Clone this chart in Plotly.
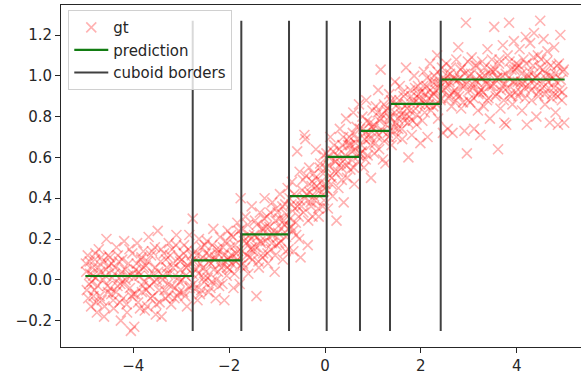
import plotly.graph_objects as go

# Noisy ground-truth samples, grouped in slices of x (first pass)
gt_x = [
    -4.99, -4.97, -4.95, -4.92, -4.90, -4.88, -4.85, -4.83, -4.80, -4.78, -4.76,
    -4.74, -4.72, -4.69, -4.66, -4.64, -4.61, -4.58, -4.56, -4.53, -4.51,
    -4.49, -4.46, -4.44, -4.41, -4.38, -4.35, -4.33, -4.30, -4.28, -4.26,
    -4.24, -4.21, -4.19, -4.16, -4.13, -4.10, -4.07, -4.05, -4.02, -4.00,
    -3.98, -3.95, -3.92, -3.90, -3.87, -3.84, -3.82, -3.79, -3.77, -3.76,
    -3.74, -3.71, -3.68, -3.66, -3.63, -3.60, -3.58, -3.55, -3.53, -3.51,
    -3.49, -3.46, -3.43, -3.41, -3.38, -3.36, -3.33, -3.30, -3.28, -3.26,
    -3.24, -3.21, -3.19, -3.16, -3.13, -3.10, -3.08, -3.05, -3.03, -3.01,
    -2.99, -2.96, -2.94, -2.91, -2.88, -2.86, -2.83, -2.81, -2.78, -2.76,
    -2.74, -2.71, -2.69, -2.66, -2.63, -2.60, -2.58, -2.55, -2.53, -2.51,
    -2.49, -2.46, -2.43, -2.41, -2.38, -2.36, -2.33, -2.30, -2.28, -2.26,
    -2.24, -2.21, -2.19, -2.16, -2.13, -2.10, -2.08, -2.05, -2.03, -2.01,
    -1.99, -1.96, -1.94, -1.91, -1.88, -1.86, -1.83, -1.81, -1.78, -1.76,
    -1.74, -1.71, -1.69, -1.66, -1.63, -1.60, -1.58, -1.55, -1.53, -1.51,
    -1.49, -1.46, -1.43, -1.41, -1.38, -1.36, -1.33, -1.30, -1.28, -1.26,
    -1.24, -1.21, -1.19, -1.16, -1.13, -1.10, -1.08, -1.05, -1.03, -1.01,
    -0.99, -0.96, -0.94, -0.91, -0.88, -0.86, -0.83, -0.81, -0.78, -0.76,
    -0.74, -0.71, -0.69, -0.66, -0.63, -0.60, -0.58, -0.55, -0.53, -0.51,
    -0.49, -0.46, -0.43, -0.41, -0.38, -0.36, -0.33, -0.30, -0.28, -0.26,
    -0.24, -0.21, -0.19, -0.16, -0.13, -0.10, -0.08, -0.05, -0.03, -0.01,
    0.01, 0.03, 0.06, 0.09, 0.11, 0.14, 0.16, 0.19, 0.21, 0.24,
    0.26, 0.28, 0.31, 0.34, 0.36, 0.39, 0.41, 0.44, 0.46, 0.49,
    0.51, 0.53, 0.56, 0.59, 0.61, 0.64, 0.66, 0.69, 0.71, 0.74,
    0.76, 0.78, 0.81, 0.84, 0.86, 0.89, 0.91, 0.94, 0.96, 0.99,
    1.01, 1.03, 1.06, 1.09, 1.11, 1.14, 1.16, 1.19, 1.21, 1.24,
    1.26, 1.28, 1.31, 1.34, 1.36, 1.39, 1.41, 1.44, 1.46, 1.49,
    1.51, 1.53, 1.56, 1.59, 1.61, 1.64, 1.66, 1.69, 1.71, 1.74,
    1.76, 1.78, 1.81, 1.84, 1.86, 1.89, 1.91, 1.94, 1.96, 1.99,
    2.01, 2.03, 2.06, 2.09, 2.11, 2.14, 2.16, 2.19, 2.21, 2.24,
    2.26, 2.28, 2.31, 2.34, 2.36, 2.39, 2.41, 2.44, 2.46, 2.49,
    2.51, 2.53, 2.56, 2.59, 2.61, 2.64, 2.66, 2.69, 2.71, 2.74,
    2.76, 2.78, 2.81, 2.84, 2.86, 2.89, 2.91, 2.94, 2.96, 2.99,
    3.01, 3.03, 3.06, 3.09, 3.11, 3.14, 3.16, 3.19, 3.21, 3.24,
    3.26, 3.28, 3.31, 3.34, 3.36, 3.39, 3.41, 3.44, 3.46, 3.49,
    3.51, 3.53, 3.56, 3.59, 3.61, 3.64, 3.66, 3.69, 3.71, 3.74,
    3.76, 3.78, 3.81, 3.84, 3.86, 3.89, 3.91, 3.94, 3.96, 3.99,
    4.01, 4.03, 4.06, 4.09, 4.11, 4.14, 4.16, 4.19, 4.21, 4.24,
    4.26, 4.28, 4.31, 4.34, 4.36, 4.39, 4.41, 4.44, 4.46, 4.49,
    4.51, 4.53, 4.56, 4.59, 4.61, 4.64, 4.66, 4.69, 4.71, 4.74,
    4.76, 4.78, 4.81, 4.84, 4.86, 4.89, 4.91, 4.94, 4.96, 4.99,
]
gt_y = [
    0.08, -0.05, 0.12, -0.02, 0.03, -0.13, 0.06, -0.08, 0.10, 0.01, -0.16,
    -0.03, 0.15, 0.04, -0.10, 0.09, -0.18, 0.02, 0.20, -0.06, 0.07,
    0.11, -0.07, 0.01, -0.14, 0.06, 0.16, -0.03, 0.09, -0.11, -0.20,
    0.04, -0.09, 0.19, 0.00, -0.16, 0.08, -0.04, -0.25, 0.13, -0.07,
    -0.23, 0.05, 0.18, -0.11, 0.02, 0.10, -0.06, 0.14, -0.01, -0.15,
    0.07, -0.13, 0.21, -0.03, 0.12, -0.08, 0.03, 0.16, -0.17, 0.00,
    0.24, -0.05, 0.09, -0.18, 0.02, 0.13, -0.09, 0.06, -0.02, 0.18,
    0.03, -0.12, 0.15, 0.08, -0.04, 0.22, -0.08, 0.11, -0.01, 0.05,
    0.10, -0.06, 0.17, 0.02, -0.13, 0.07, 0.22, -0.03, 0.12, 0.30,
    -0.02, 0.14, 0.05, -0.10, 0.20, 0.08, -0.05, 0.11, 0.01, 0.17,
    0.04, 0.19, -0.06, 0.12, 0.08, -0.01, 0.25, 0.10, -0.09, 0.15,
    0.13, -0.03, 0.21, 0.06, 0.16, -0.10, 0.09, 0.02, 0.24, 0.11,
    0.05, 0.22, 0.12, -0.04, 0.17, 0.09, 0.28, 0.14, -0.02, 0.40,
    0.25, 0.08, 0.19, 0.31, 0.12, 0.03, 0.22, 0.15, 0.36, 0.10,
    0.14, 0.29, -0.08, 0.21, 0.06, 0.33, 0.18, 0.11, 0.25, 0.40,
    0.19, 0.31, 0.08, 0.26, 0.15, 0.38, 0.22, 0.04, 0.29, 0.17,
    0.33, 0.18, 0.42, 0.25, 0.10, 0.29, 0.37, 0.21, 0.45, 0.15,
    0.40, 0.26, 0.48, 0.14, 0.35, 0.22, 0.63, 0.31, 0.53, 0.11,
    0.36, 0.49, 0.71, 0.69, 0.42, 0.17, 0.55, 0.38, 0.46, 0.31,
    0.52, 0.39, 0.64, 0.44, 0.31, 0.57, 0.48, 0.36, 0.61, 0.45,
    0.47, 0.62, 0.35, 0.56, 0.70, 0.50, 0.41, 0.66, 0.58, 0.29,
    0.61, 0.45, 0.74, 0.55, 0.66, 0.38, 0.59, 0.79, 0.50, 0.68,
    0.70, 0.54, 0.63, 0.82, 0.47, 0.67, 0.75, 0.58, 0.86, 0.62,
    0.66, 0.80, 0.55, 0.72, 0.88, 0.61, 0.69, 0.77, 0.50, 0.83,
    0.74, 0.62, 0.85, 0.70, 0.93, 0.78, 1.03, 0.81, 0.59, 0.68,
    0.57, 0.83, 0.72, 0.91, 0.79, 0.66, 0.87, 0.75, 0.97, 0.70,
    0.86, 0.74, 0.95, 0.81, 0.69, 0.90, 0.78, 1.04, 0.84, 0.60,
    0.80, 0.93, 0.71, 0.88, 1.00, 0.84, 0.76, 0.95, 0.89, 0.67,
    0.92, 0.78, 1.02, 0.86, 0.95, 0.70, 0.89, 1.06, 0.83, 0.97,
    0.85, 1.00, 0.93, 1.10, 0.79, 0.96, 0.88, 1.04, 0.72, 0.98,
    0.97, 1.06, 0.74, 0.90, 1.01, 0.85, 0.72, 0.99, 0.93, 1.08,
    0.91, 1.14, 0.99, 0.84, 1.04, 0.95, 0.73, 1.26, 0.62, 0.88,
    1.00, 0.87, 1.09, 0.94, 0.74, 0.98, 1.05, 0.83, 0.92, 0.71,
    0.93, 1.07, 0.85, 1.00, 0.96, 1.13, 0.89, 0.79, 1.03, 0.95,
    1.02, 1.24, 0.90, 0.99, 0.64, 1.08, 0.84, 0.95, 1.15, 0.77,
    0.96, 0.76, 1.10, 1.26, 0.91, 1.03, 0.86, 1.17, 0.97, 1.06,
    1.04, 0.90, 1.13, 0.97, 0.83, 1.08, 0.94, 1.19, 0.76, 1.00,
    0.95, 1.16, 0.88, 1.05, 1.21, 0.99, 0.80, 1.10, 0.92, 1.27,
    1.08, 0.94, 1.18, 0.86, 1.01, 1.12, 0.97, 0.77, 1.05, 0.91,
    0.99, 1.14, 0.82, 1.05, 0.76, 0.93, 1.20, 0.88, 1.02, 0.77,
]

# Second pass of samples, mostly in the dense core of the band
gt_x2 = [
    -4.98, -4.94, -4.91, -4.87, -4.84, -4.81, -4.79, -4.77,
    -4.73, -4.70, -4.67, -4.63, -4.60, -4.57, -4.54, -4.52,
    -4.48, -4.45, -4.42, -4.39, -4.36, -4.32, -4.29, -4.27,
    -4.23, -4.20, -4.17, -4.14, -4.11, -4.08, -4.04, -4.01,
    -3.99, -3.96, -3.93, -3.89, -3.86, -3.83, -3.80, -3.78,
    -3.73, -3.70, -3.67, -3.64, -3.61, -3.57, -3.54, -3.52,
    -3.48, -3.45, -3.42, -3.39, -3.35, -3.32, -3.29, -3.27,
    -3.23, -3.20, -3.17, -3.14, -3.11, -3.07, -3.04, -3.02,
    -2.98, -2.95, -2.92, -2.89, -2.85, -2.82, -2.80, -2.77,
    -2.73, -2.70, -2.67, -2.64, -2.61, -2.57, -2.54, -2.52,
    -2.48, -2.45, -2.42, -2.39, -2.35, -2.32, -2.29, -2.27,
    -2.23, -2.20, -2.17, -2.14, -2.11, -2.07, -2.04, -2.02,
    -1.98, -1.95, -1.92, -1.89, -1.85, -1.82, -1.80, -1.77,
    -1.73, -1.70, -1.67, -1.64, -1.61, -1.57, -1.54, -1.52,
    -1.48, -1.45, -1.42, -1.39, -1.35, -1.32, -1.29, -1.27,
    -1.23, -1.20, -1.17, -1.14, -1.11, -1.07, -1.04, -1.02,
    -0.98, -0.95, -0.92, -0.89, -0.85, -0.82, -0.80, -0.77,
    -0.73, -0.70, -0.67, -0.64, -0.61, -0.57, -0.54, -0.52,
    -0.48, -0.45, -0.42, -0.39, -0.35, -0.32, -0.29, -0.27,
    -0.23, -0.20, -0.17, -0.14, -0.11, -0.07, -0.04, -0.02,
    0.02, 0.05, 0.08, 0.10, 0.13, 0.17, 0.20, 0.23,
    0.27, 0.30, 0.33, 0.35, 0.38, 0.42, 0.45, 0.48,
    0.52, 0.55, 0.58, 0.60, 0.63, 0.67, 0.70, 0.73,
    0.77, 0.80, 0.83, 0.85, 0.88, 0.92, 0.95, 0.98,
    1.02, 1.05, 1.08, 1.10, 1.13, 1.17, 1.20, 1.23,
    1.27, 1.30, 1.33, 1.35, 1.38, 1.42, 1.45, 1.48,
    1.52, 1.55, 1.58, 1.60, 1.63, 1.67, 1.70, 1.73,
    1.77, 1.80, 1.83, 1.85, 1.88, 1.92, 1.95, 1.98,
    2.02, 2.05, 2.08, 2.10, 2.13, 2.17, 2.20, 2.23,
    2.27, 2.30, 2.33, 2.35, 2.38, 2.42, 2.45, 2.48,
    2.52, 2.55, 2.58, 2.60, 2.63, 2.67, 2.70, 2.73,
    2.77, 2.80, 2.83, 2.85, 2.88, 2.92, 2.95, 2.98,
    3.02, 3.05, 3.08, 3.10, 3.13, 3.17, 3.20, 3.23,
    3.27, 3.30, 3.33, 3.35, 3.38, 3.42, 3.45, 3.48,
    3.52, 3.55, 3.58, 3.60, 3.63, 3.67, 3.70, 3.73,
    3.77, 3.80, 3.83, 3.85, 3.88, 3.92, 3.95, 3.98,
    4.02, 4.05, 4.08, 4.10, 4.13, 4.17, 4.20, 4.23,
    4.27, 4.30, 4.33, 4.35, 4.38, 4.42, 4.45, 4.48,
    4.52, 4.55, 4.58, 4.60, 4.63, 4.67, 4.70, 4.73,
    4.77, 4.80, 4.83, 4.85, 4.88, 4.92, 4.95, 4.98,
]
gt_y2 = [
    0.04, -0.09, 0.09, -0.01, 0.02, -0.05, 0.13, -0.11,
    0.06, -0.08, 0.11, 0.00, -0.13, 0.05, -0.03, 0.12,
    -0.04, 0.08, -0.10, 0.03, -0.06, 0.12, 0.01, -0.02,
    0.10, -0.02, 0.05, -0.12, 0.02, 0.15, -0.08, 0.03,
    0.01, -0.07, 0.08, 0.04, -0.14, 0.11, -0.03, 0.06,
    -0.05, 0.09, 0.02, -0.09, 0.14, -0.01, 0.06, -0.12,
    0.04, -0.11, 0.15, 0.00, -0.05, 0.10, 0.03, -0.08,
    0.12, -0.03, 0.06, -0.09, 0.17, 0.01, -0.06, 0.09,
    0.00, 0.13, -0.08, 0.06, 0.15, -0.04, 0.09, 0.03,
    0.09, -0.04, 0.12, 0.03, -0.07, 0.16, 0.06, -0.01,
    0.13, 0.01, 0.09, -0.04, 0.17, 0.05, 0.11, 0.00,
    0.04, 0.15, 0.08, -0.02, 0.12, 0.19, 0.06, 0.10,
    0.16, 0.08, 0.21, 0.03, 0.13, 0.10, 0.24, 0.07,
    0.14, 0.21, 0.06, 0.18, 0.27, 0.11, 0.20, 0.16,
    0.22, 0.16, 0.27, 0.09, 0.19, 0.25, 0.13, 0.30,
    0.26, 0.13, 0.21, 0.33, 0.18, 0.24, 0.12, 0.35,
    0.23, 0.30, 0.19, 0.36, 0.27, 0.14, 0.32, 0.25,
    0.30, 0.37, 0.24, 0.42, 0.28, 0.36, 0.20, 0.39,
    0.44, 0.33, 0.40, 0.51, 0.29, 0.43, 0.36, 0.48,
    0.41, 0.50, 0.46, 0.35, 0.55, 0.43, 0.52, 0.39,
    0.55, 0.44, 0.60, 0.51, 0.47, 0.63, 0.53, 0.58,
    0.53, 0.64, 0.57, 0.49, 0.70, 0.61, 0.56, 0.66,
    0.66, 0.59, 0.72, 0.55, 0.64, 0.69, 0.61, 0.74,
    0.63, 0.74, 0.69, 0.59, 0.78, 0.71, 0.66, 0.75,
    0.76, 0.67, 0.72, 0.82, 0.64, 0.79, 0.73, 0.86,
    0.76, 0.84, 0.70, 0.80, 0.88, 0.73, 0.82, 0.77,
    0.79, 0.88, 0.83, 0.74, 0.92, 0.80, 0.86, 0.77,
    0.83, 0.90, 0.78, 0.87, 0.94, 0.81, 0.91, 0.86,
    0.88, 0.95, 0.82, 0.91, 0.99, 0.86, 0.93, 0.90,
    0.91, 0.97, 0.86, 1.02, 0.94, 0.89, 0.99, 0.93,
    0.94, 1.00, 0.89, 0.97, 1.04, 0.92, 0.98, 0.88,
    0.98, 0.90, 1.03, 0.95, 0.87, 1.01, 0.96, 1.07,
    0.93, 1.01, 0.96, 0.89, 1.05, 0.97, 0.91, 1.00,
    0.99, 0.92, 1.04, 0.97, 0.88, 1.01, 0.95, 1.08,
    0.96, 1.03, 0.91, 0.99, 1.06, 0.93, 1.00, 0.88,
    1.01, 0.94, 0.99, 1.07, 0.90, 0.97, 1.03, 0.92,
    0.97, 1.05, 0.92, 1.01, 0.96, 0.89, 1.06, 0.99,
    1.02, 0.93, 0.98, 1.09, 0.95, 1.00, 0.90, 1.04,
    0.96, 1.03, 0.91, 0.99, 1.07, 0.94, 1.00, 0.89,
    0.94, 1.01, 0.97, 0.90, 1.06, 0.98, 0.92, 1.03,
]

# Piecewise-constant prediction: one level per cuboid
pred_x = [-5.0, -2.76, -1.746, -0.751, 0.035, 0.73, 1.356, 2.414, 5.0]
pred_y = [0.019, 0.096, 0.223, 0.41, 0.603, 0.73, 0.862, 0.982, 0.982]

# Cuboid borders (interior split points)
borders = [-2.76, -1.746, -0.751, 0.035, 0.73, 1.356, 2.414]

all_x = gt_x + gt_x2
all_y = gt_y + gt_y2
y_lo = min(all_y)
y_hi = max(all_y)

border_x, border_y = [], []
for b in borders:
    border_x += [b, b, None]
    border_y += [y_lo, y_hi, None]

FONT = "DejaVu Sans"
TXT = "#262626"
RED = "rgba(255,0,0,0.3)"

fig = go.Figure()
fig.add_trace(go.Scatter(
    x=all_x, y=all_y, mode="markers", name="gt",
    marker=dict(symbol="x-thin", size=10, color=RED,
                line=dict(width=1.6, color=RED)),
))
fig.add_trace(go.Scatter(
    x=pred_x, y=pred_y, mode="lines", name="prediction", line_shape="hv",
    line=dict(color="#127c12", width=2.2),
))
fig.add_trace(go.Scatter(
    x=border_x, y=border_y, mode="lines", name="cuboid borders",
    line=dict(color="#404040", width=2),
))

fig.update_layout(
    width=581, height=374,
    margin=dict(l=61, r=0, t=5, b=27),
    paper_bgcolor="white", plot_bgcolor="white",
    font=dict(family=FONT, size=15, color=TXT),
    showlegend=True,
    legend=dict(
        x=0.014, y=0.985, xanchor="left", yanchor="top",
        bgcolor="rgba(255,255,255,0.8)", bordercolor="#d0d0d0", borderwidth=1,
        font=dict(family=FONT, size=15, color=TXT),
        itemwidth=34, tracegroupgap=0,
    ),
)
fig.update_xaxes(
    range=[-5.508, 5.341], tickvals=[-4, -2, 0, 2, 4],
    showgrid=False, zeroline=False,
    showline=True, linecolor="#262626", linewidth=1, mirror=True,
    ticks="outside", ticklen=5, tickwidth=1, tickcolor="#262626",
)
fig.update_yaxes(
    range=[-0.329, 1.347], tickvals=[-0.2, 0.0, 0.2, 0.4, 0.6, 0.8, 1.0, 1.2],
    tickformat=".1f",
    showgrid=False, zeroline=False,
    showline=True, linecolor="#262626", linewidth=1, mirror=False,
    ticks="outside", ticklen=5, tickwidth=1, tickcolor="#262626",
)

fig.write_html("out.html")
